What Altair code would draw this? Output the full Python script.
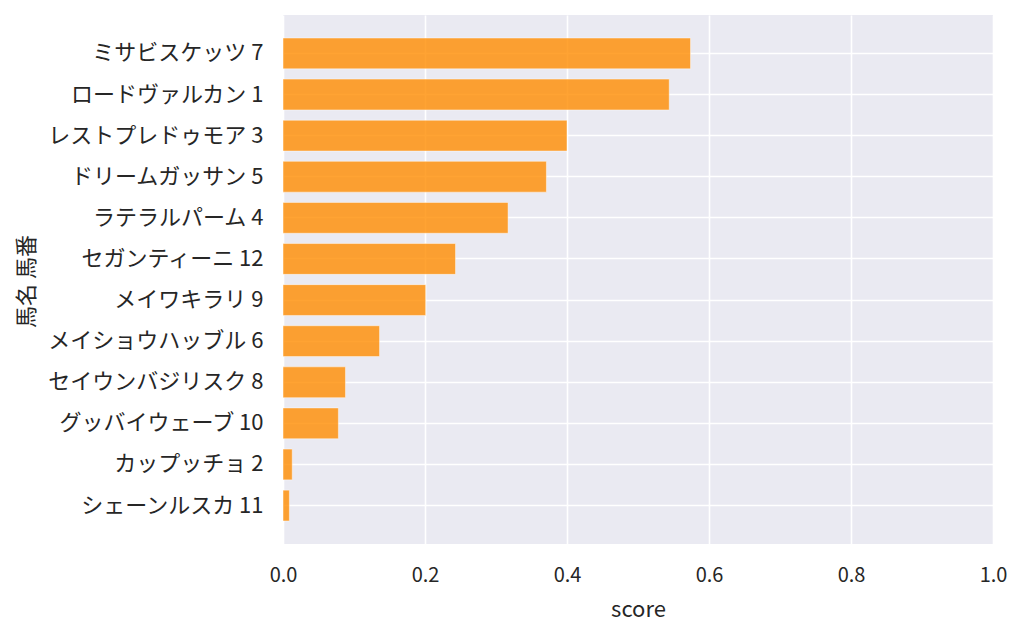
import altair as alt
import pandas as pd

names = ["ミサビスケッツ", "ロードヴァルカン", "レストプレドゥモア", "ドリームガッサン",
         "ラテラルパーム", "セガンティーニ", "メイワキラリ", "メイショウハッブル",
         "セイウンバジリスク", "グッバイウェーブ", "カップッチョ", "シェーンルスカ"]
numbers = [7, 1, 3, 5, 4, 12, 9, 6, 8, 10, 2, 11]
scores = [0.574, 0.544, 0.400, 0.371, 0.317, 0.243, 0.201, 0.136, 0.088, 0.078, 0.013, 0.009]

labels = [f"{n} {k}" for n, k in zip(names, numbers)]
df = pd.DataFrame({"label": labels, "score": scores})

FONT = "Noto Sans CJK JP"
TXT = "#262626"

chart = alt.Chart(df).mark_bar(
    color="darkorange", fillOpacity=0.8, stroke="white", strokeOpacity=0.45, strokeWidth=1
).encode(
    x=alt.X("score:Q", title="score",
            scale=alt.Scale(domain=[0, 1], nice=False, zero=True),
            axis=alt.Axis(values=[0, 0.2, 0.4, 0.6, 0.8, 1.0], format=".1f",
                          grid=True, gridColor="white", gridWidth=1.6,
                          ticks=False, tickSize=0, domain=False, labelFlush=False,
                          labelFont=FONT, labelFontSize=20, labelColor=TXT,
                          labelPadding=21, titleFont=FONT, titleFontSize=22,
                          titleFontWeight="normal", titleColor=TXT, titlePadding=14)),
    y=alt.Y("label:N", title="馬名 馬番", sort=labels,
            scale=alt.Scale(paddingInner=0.25, paddingOuter=0.56),
            axis=alt.Axis(grid=True, gridColor="white", gridWidth=1.6, bandPosition=0.5,
                          ticks=False, tickSize=0, domain=False, labelLimit=400,
                          labelFont=FONT, labelFontSize=22, labelColor=TXT,
                          labelPadding=20, titleFont=FONT, titleFontSize=22,
                          titleFontWeight="normal", titleColor=TXT,
                          titleX=-257, titleY=266, titleAngle=270,
                          titleAlign="center", titleBaseline="middle")),
).properties(
    width=710, height=529,
    autosize=alt.AutoSizeParams(type="none"),
    padding={"left": 275, "top": 7, "right": 23, "bottom": 82},
).configure(
    background="white"
).configure_view(
    fill="#EAEAF2", stroke=None
)

chart.save("out.html", embed_options={"renderer": "svg", "actions": False})
